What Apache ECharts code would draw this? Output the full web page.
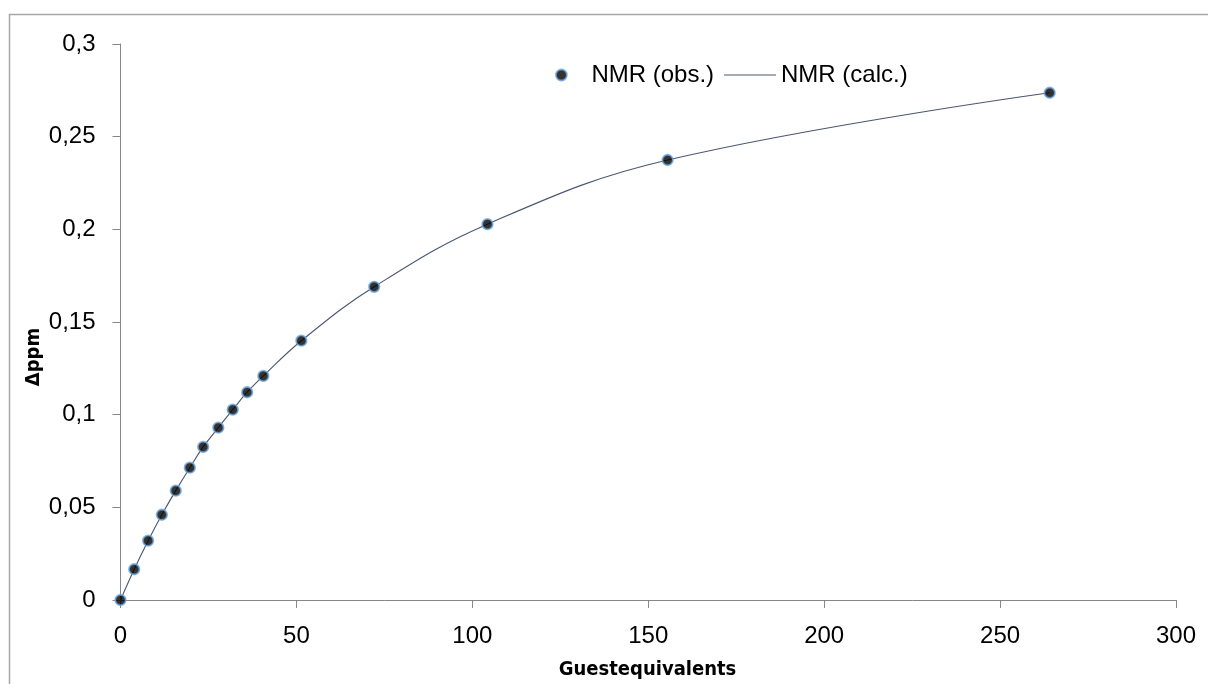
<!DOCTYPE html>
<html>
<head>
<meta charset="utf-8">
<style>
  html, body { margin: 0; padding: 0; background: #fff; }
  #chart { width: 1208px; height: 684px; }
</style>
<script src="https://cdn.jsdelivr.net/npm/echarts@6/dist/echarts.min.js"></script>
</head>
<body>
<div id="chart"></div>
<script>
// Titration: guest equivalents vs. chemical shift change
const guestEquivalents = [0, 3.9, 7.85, 11.75, 15.7, 19.7, 23.5, 27.8, 31.9, 36.0, 40.6, 51.4, 72.1, 104.3, 155.5, 264.1];
const deltaObs = [0, 0.0166, 0.0320, 0.0460, 0.0590, 0.0714, 0.0826, 0.0930, 0.1027, 0.1121, 0.1209, 0.1399, 0.1690, 0.2028, 0.2374, 0.2737];
const deltaCalc = [0, 0.0166, 0.0320, 0.0460, 0.0590, 0.0714, 0.0826, 0.0930, 0.1027, 0.1121, 0.1209, 0.1399, 0.1690, 0.2028, 0.2374, 0.2737];
const seriesNames = ['NMR (obs.)', 'NMR (calc.)'];
const xAxisTitle = 'Guestequivalents';
const yAxisTitle = 'Δppm';

const pair = (xs, ys) => xs.map((x, i) => [x, ys[i]]);
const tickFont = { fontFamily: '"Liberation Sans", Arial, sans-serif', fontSize: 24, color: '#000' };
const titleFont = '"DejaVu Sans Condensed", "DejaVu Sans", sans-serif';
const axisGray = '#868686';
const lineColor = '#4a5670';
const dotStyle = { color: '#000', borderColor: '#6aa6dc', borderWidth: 1.8 };

const chart = echarts.init(document.getElementById('chart'), null, { renderer: 'canvas' });
chart.setOption({
  animation: false,
  backgroundColor: '#fff',
  grid: { left: 120.5, right: 32, top: 44, bottom: 84, containLabel: false },
  xAxis: {
    type: 'value', min: 0, max: 300, interval: 50,
    axisLine: { show: true, onZero: false, lineStyle: { color: axisGray, width: 1 } },
    axisTick: { show: true, inside: false, length: 8, lineStyle: { color: axisGray } },
    axisLabel: Object.assign({ margin: 24 }, tickFont),
    splitLine: { show: false }
  },
  yAxis: {
    type: 'value', min: 0, max: 0.3, interval: 0.05,
    axisLine: { show: true, onZero: false, lineStyle: { color: axisGray, width: 1 } },
    axisTick: { show: true, inside: false, length: 8, lineStyle: { color: axisGray } },
    axisLabel: Object.assign({
      margin: 25,
      formatter: v => String(+v.toFixed(2)).replace('.', ',')
    }, tickFont),
    splitLine: { show: false }
  },
  legend: [
    {
      data: [{ name: seriesNames[0], icon: 'circle', itemStyle: dotStyle }],
      left: 550, top: 58, itemWidth: 50, itemHeight: 11,
      textStyle: Object.assign({}, tickFont)
    },
    {
      data: [{ name: seriesNames[1], icon: 'rect',
               itemStyle: { color: lineColor, borderWidth: 0 } }],
      left: 719, top: 58, itemWidth: 52, itemHeight: 1.2,
      textStyle: Object.assign({}, tickFont)
    }
  ],
  graphic: [
    { type: 'rect', silent: true, z: -1,
      shape: { x: 9.5, y: 14.5, width: 1300, height: 800 },
      style: { fill: 'none', stroke: '#a6a6a6', lineWidth: 1.5 } },
    { type: 'text', x: 647.5, y: 670,
      style: { text: xAxisTitle, font: 'bold 20px ' + titleFont, fill: '#000',
               textAlign: 'center', textVerticalAlign: 'middle' } },
    { type: 'text', x: 34, y: 357, rotation: Math.PI / 2,
      style: { text: yAxisTitle, font: 'bold 20px ' + titleFont, fill: '#000',
               textAlign: 'center', textVerticalAlign: 'middle' } }
  ],
  series: [
    {
      name: seriesNames[1], type: 'line', data: pair(guestEquivalents, deltaCalc),
      smooth: 0.4, symbol: 'none', clip: false, z: 2,
      lineStyle: { color: lineColor, width: 1.1 },
      itemStyle: { color: lineColor }
    },
    {
      name: seriesNames[0], type: 'scatter', data: pair(guestEquivalents, deltaObs),
      symbol: 'circle', symbolSize: 10.5, clip: false, z: 3,
      itemStyle: dotStyle
    }
  ]
});
</script>
</body>
</html>
